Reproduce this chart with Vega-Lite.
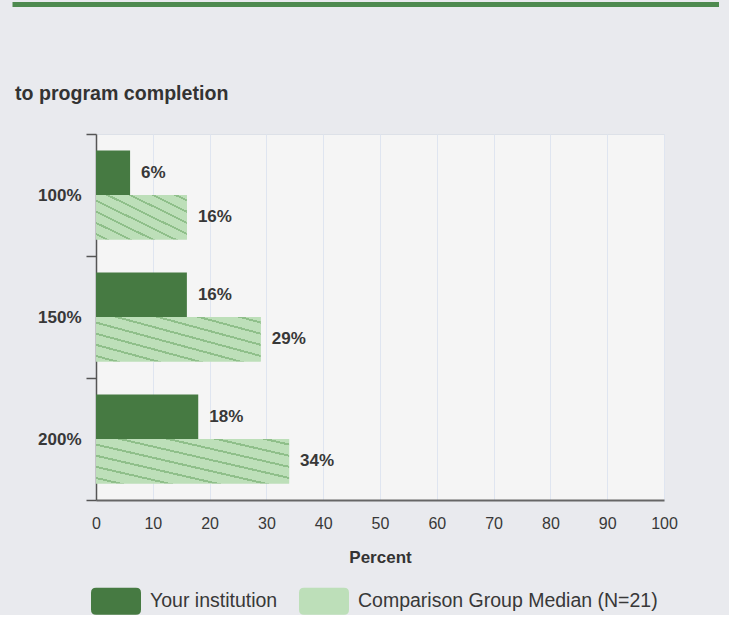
{
  "$schema": "https://vega.github.io/schema/vega-lite/v6.json",
  "background": "#e9eaee",
  "padding": {"left": 9, "top": 1, "right": 11, "bottom": 0},
  "config": {
    "font": "Liberation Sans"
  },
  "spacing": 76,
  "vconcat": [
    {
      "width": 623,
      "height": 5,
      "view": {"stroke": null},
      "data": {"values": [{"k": "bar"}]},
      "mark": {"type": "rect", "color": "#4e8a4f"},
      "encoding": {
        "y": {
          "field": "k",
          "type": "nominal",
          "scale": {"paddingInner": 0, "paddingOuter": 0},
          "axis": {
            "title": null,
            "labels": false,
            "domain": false,
            "grid": false,
            "minExtent": 0,
            "tickSize": 84,
            "tickWidth": 5,
            "tickColor": "#4e8a4f"
          }
        }
      }
    },
    {
      "width": 568,
      "height": 366,
      "view": {"fill": "#f5f5f5", "stroke": "#dde1e8"},
      "title": {
        "text": "to program completion",
        "anchor": "start",
        "frame": "group",
        "dx": -81,
        "fontSize": 19.6,
        "fontWeight": "bold",
        "color": "#333333",
        "offset": 20
      },
      "data": {
        "values": [
          {"category": "100%", "series": "Your institution", "value": 6, "label": "6%"},
          {"category": "100%", "series": "Comparison Group Median (N=21)", "value": 16, "label": "16%"},
          {"category": "150%", "series": "Your institution", "value": 16, "label": "16%"},
          {"category": "150%", "series": "Comparison Group Median (N=21)", "value": 29, "label": "29%"},
          {"category": "200%", "series": "Your institution", "value": 18, "label": "18%"},
          {"category": "200%", "series": "Comparison Group Median (N=21)", "value": 34, "label": "34%"}
        ]
      },
      "encoding": {
        "y": {
          "field": "category",
          "type": "nominal",
          "sort": ["100%", "150%", "200%"],
          "scale": {"paddingInner": 0, "paddingOuter": 0},
          "axis": {
            "title": null,
            "tickBand": "extent",
            "tickSize": 10,
            "tickColor": "#555555",
            "tickWidth": 1.5,
            "domainColor": "#555555",
            "domainWidth": 1.5,
            "labelPadding": 5,
            "labelFontSize": 17,
            "labelFontWeight": "bold",
            "labelColor": "#383838",
            "grid": false
          }
        },
        "yOffset": {
          "field": "series",
          "type": "nominal",
          "sort": ["Your institution", "Comparison Group Median (N=21)"],
          "scale": {"paddingInner": 0, "paddingOuter": 0.37}
        },
        "x": {
          "field": "value",
          "type": "quantitative",
          "scale": {"domain": [0, 100], "nice": false},
          "axis": {
            "title": "Percent",
            "values": [0, 10, 20, 30, 40, 50, 60, 70, 80, 90, 100],
            "ticks": false,
            "domainColor": "#666666",
            "domainWidth": 2,
            "gridColor": "#dfe5f0",
            "gridWidth": 1,
            "labelPadding": 15,
            "labelFontSize": 16,
            "labelColor": "#383838",
            "labelFlush": false,
            "titleFontSize": 17,
            "titleFontWeight": "bold",
            "titleColor": "#333333",
            "titlePadding": 18
          }
        }
      },
      "layer": [
        {
          "mark": {"type": "bar"},
          "encoding": {
            "color": {
              "field": "series",
              "type": "nominal",
              "scale": {
                "domain": ["Your institution", "Comparison Group Median (N=21)"],
                "range": ["#467a42", "#bddfb9"]
              },
              "legend": {
                "title": null,
                "orient": "none",
                "direction": "horizontal",
                "legendX": -5,
                "legendY": 574,
                "padding": 0,
                "symbolType": "M-0.8,-0.54H0.8Q1,-0.54 1,-0.34V0.34Q1,0.54 0.8,0.54H-0.8Q-1,0.54 -1,0.34V-0.34Q-1,-0.54 -0.8,-0.54Z",
                "symbolSize": 2500,
                "symbolStrokeWidth": 0,
                "labelOffset": 9,
                "labelFontSize": 19.5,
                "labelColor": "#383838",
                "labelLimit": 400,
                "columnPadding": 21
              }
            }
          }
        },
        {
          "transform": [{"filter": "datum.series === 'Comparison Group Median (N=21)'"}],
          "mark": {
            "type": "bar",
            "fill": {
              "gradient": "linear",
              "x1": 0, "y1": 1, "x2": 1, "y2": 0,
              "stops": [
                {"offset": 0, "color": "#bddfb9"},
                {"offset": 0.051, "color": "#bddfb9"},
                {"offset": 0.051, "color": "#8fbf8a"},
                {"offset": 0.074, "color": "#8fbf8a"},
                {"offset": 0.074, "color": "#bddfb9"},
                {"offset": 0.176, "color": "#bddfb9"},
                {"offset": 0.176, "color": "#8fbf8a"},
                {"offset": 0.199, "color": "#8fbf8a"},
                {"offset": 0.199, "color": "#bddfb9"},
                {"offset": 0.301, "color": "#bddfb9"},
                {"offset": 0.301, "color": "#8fbf8a"},
                {"offset": 0.324, "color": "#8fbf8a"},
                {"offset": 0.324, "color": "#bddfb9"},
                {"offset": 0.426, "color": "#bddfb9"},
                {"offset": 0.426, "color": "#8fbf8a"},
                {"offset": 0.449, "color": "#8fbf8a"},
                {"offset": 0.449, "color": "#bddfb9"},
                {"offset": 0.551, "color": "#bddfb9"},
                {"offset": 0.551, "color": "#8fbf8a"},
                {"offset": 0.574, "color": "#8fbf8a"},
                {"offset": 0.574, "color": "#bddfb9"},
                {"offset": 0.676, "color": "#bddfb9"},
                {"offset": 0.676, "color": "#8fbf8a"},
                {"offset": 0.699, "color": "#8fbf8a"},
                {"offset": 0.699, "color": "#bddfb9"},
                {"offset": 0.801, "color": "#bddfb9"},
                {"offset": 0.801, "color": "#8fbf8a"},
                {"offset": 0.824, "color": "#8fbf8a"},
                {"offset": 0.824, "color": "#bddfb9"},
                {"offset": 0.926, "color": "#bddfb9"},
                {"offset": 0.926, "color": "#8fbf8a"},
                {"offset": 0.949, "color": "#8fbf8a"},
                {"offset": 0.949, "color": "#bddfb9"},
                {"offset": 1, "color": "#bddfb9"}
              ]
            }
          }
        },
        {
          "mark": {
            "type": "text",
            "align": "left",
            "baseline": "middle",
            "dx": 11,
            "fontSize": 17,
            "fontWeight": "bold",
            "color": "#383838"
          },
          "encoding": {
            "text": {"field": "label", "type": "nominal"}
          }
        }
      ]
    }
  ]
}
